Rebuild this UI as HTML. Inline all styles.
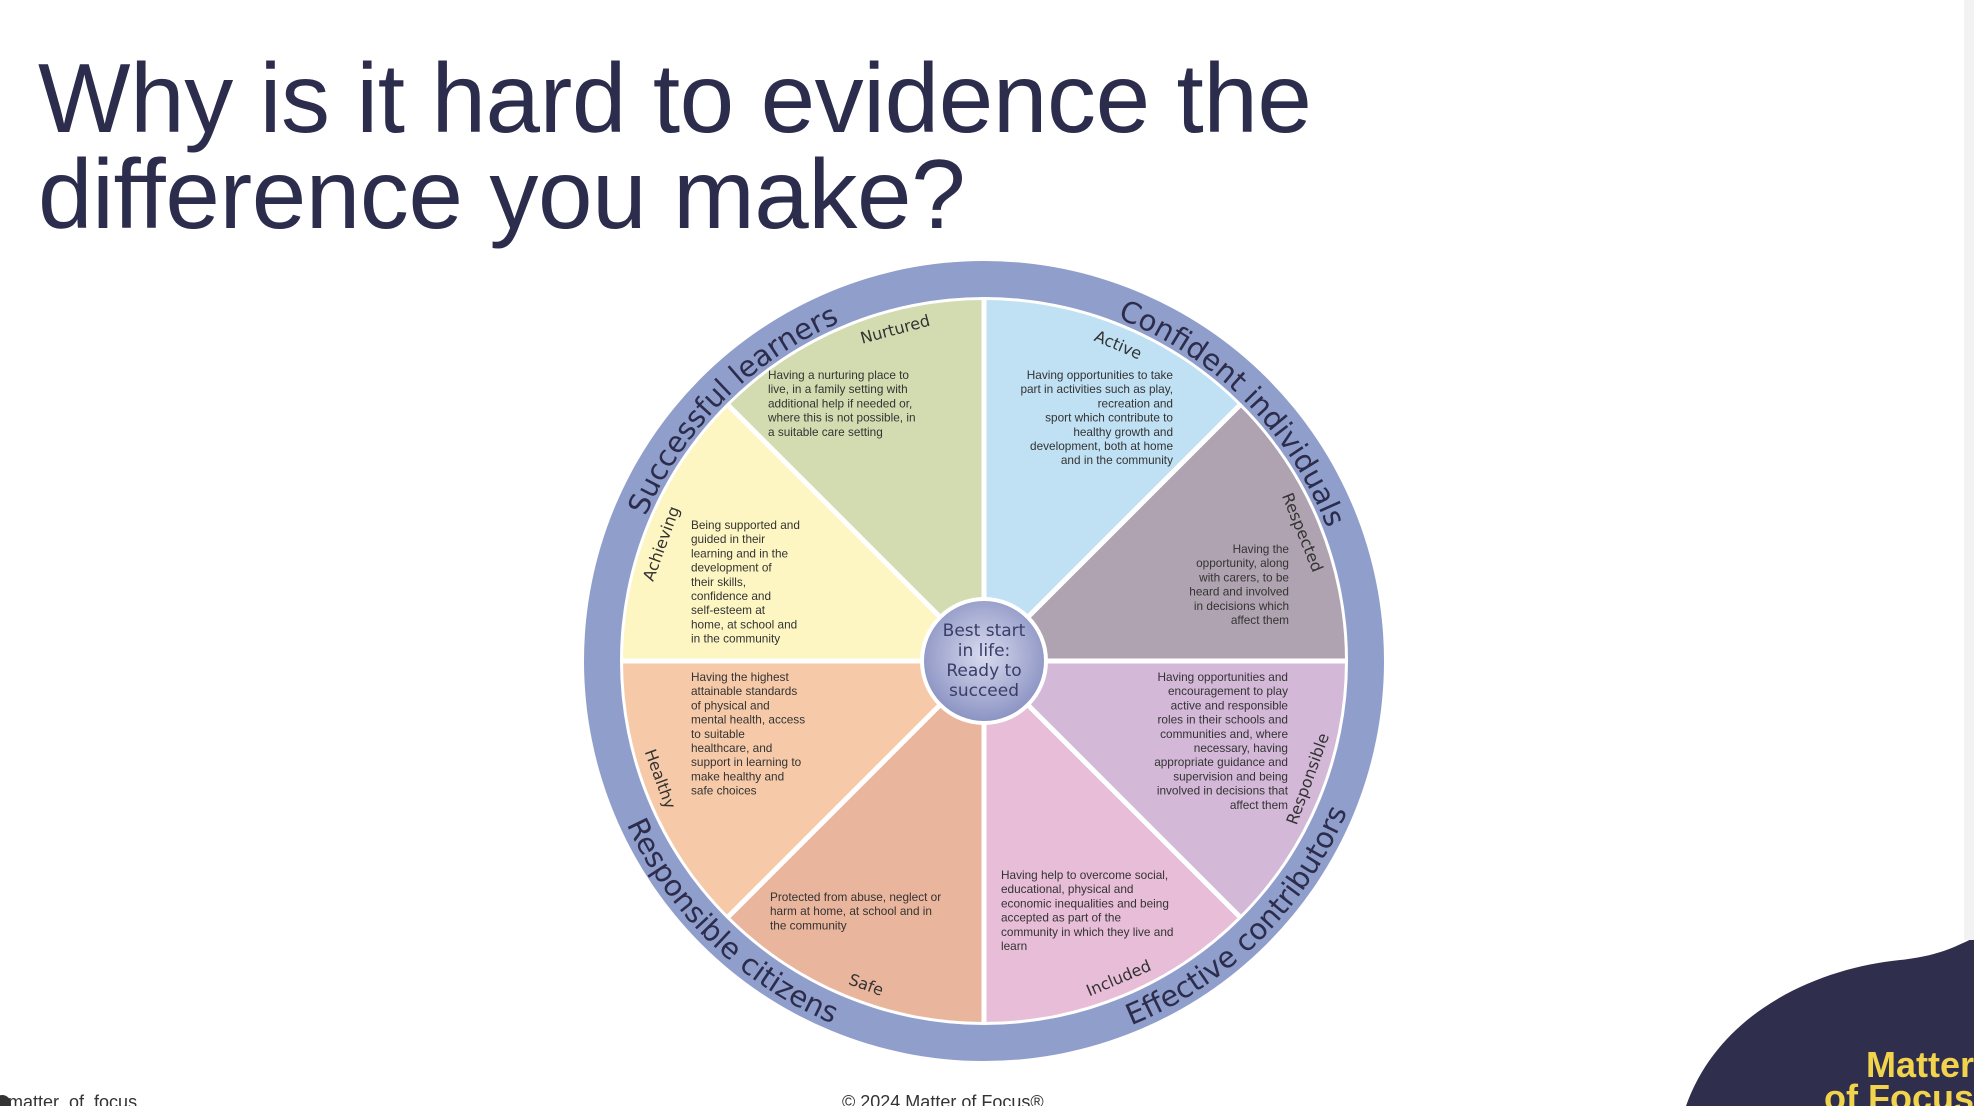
<!DOCTYPE html>
<html><head><meta charset="utf-8"><style>
html,body{margin:0;padding:0;background:#fff;}
body{width:1974px;height:1106px;overflow:hidden;position:relative;font-family:"Liberation Sans",sans-serif;}
.t{position:absolute;left:38px;color:#2c2c4c;font-size:98px;line-height:96px;letter-spacing:-0.4px;}
</style></head><body>
<div class="t" style="top:50px">Why is it hard to evidence the</div>
<div class="t" style="top:146px">difference you make?</div>
<svg width="1974" height="1106" style="position:absolute;left:0;top:0" xmlns="http://www.w3.org/2000/svg">
<defs>
<radialGradient id="cg" cx="50%" cy="45%" r="55%"><stop offset="0" stop-color="#d9dbef"/><stop offset="1" stop-color="#8c94c3"/></radialGradient>
<path id="topArc" d="M616,661 A368,368 0 0 1 1352,661 A368,368 0 0 1 616,661"/>
<path id="botArc" d="M591,661 A393,393 0 0 0 1377,661"/>
</defs>
<circle cx="984" cy="661" r="400" fill="#909ecb"/>
<circle cx="984" cy="661" r="364" fill="#fff"/>
<g transform="translate(984,661)">
<path d="M0,0 L0,-361 A361,361 0 0 0 -255.3,-255.3 Z" fill="#d3dbb1"/>
<path d="M0,0 L0,-361 A361,361 0 0 1 255.3,-255.3 Z" fill="#c0e0f3"/>
<path d="M0,0 L255.3,-255.3 A361,361 0 0 1 361,0 Z" fill="#b0a3b1"/>
<path d="M0,0 L361,0 A361,361 0 0 1 255.3,255.3 Z" fill="#d3b8d8"/>
<path d="M0,0 L255.3,255.3 A361,361 0 0 1 0,361 Z" fill="#e7bdd8"/>
<path d="M0,0 L0,361 A361,361 0 0 1 -255.3,255.3 Z" fill="#eab59d"/>
<path d="M0,0 L-255.3,255.3 A361,361 0 0 1 -361,0 Z" fill="#f6caa9"/>
<path d="M0,0 L-361,0 A361,361 0 0 1 -255.3,-255.3 Z" fill="#fdf6c3"/>
<g stroke="#fff" stroke-width="5">
<line x1="0" y1="-362" x2="0" y2="362"/><line x1="-362" y1="0" x2="362" y2="0"/>
<line x1="-256" y1="-256" x2="256" y2="256"/><line x1="-256" y1="256" x2="256" y2="-256"/>
</g>
<circle r="64" fill="#fff"/>
<circle r="60" fill="url(#cg)"/>
<g font-family="DejaVu Sans,sans-serif" font-size="17" fill="#3a3d68" text-anchor="middle">
<text y="-25">Best start</text><text y="-5">in life:</text><text y="15">Ready to</text><text y="35">succeed</text>
</g>
<g font-family="DejaVu Sans,sans-serif" font-size="16" fill="#333" text-anchor="middle">
<text transform="rotate(-15) translate(0,-338)">Nurtured</text>
<text transform="rotate(23) translate(0,-338)">Active</text>
<text transform="rotate(68) translate(0,-338)">Respected</text>
<text transform="rotate(-70) translate(0,350)">Responsible</text>
<text transform="rotate(-23) translate(0,350)">Included</text>
<text transform="rotate(20) translate(0,350)">Safe</text>
<text transform="rotate(70) translate(0,350)">Healthy</text>
<text transform="rotate(-70) translate(0,-338)">Achieving</text>
</g>
</g>
<g font-family="DejaVu Sans,sans-serif" font-size="29" fill="#2c2c4c">
<text><textPath href="#topArc" startOffset="289" text-anchor="middle">Successful learners</textPath></text>
<text><textPath href="#topArc" startOffset="867" text-anchor="middle">Confident individuals</textPath></text>
<text><textPath href="#botArc" startOffset="315" text-anchor="middle">Responsible citizens</textPath></text>
<text><textPath href="#botArc" startOffset="924" text-anchor="middle">Effective contributors</textPath></text>
</g>
<g font-family="Liberation Sans,sans-serif" font-size="11.8" fill="#333">
<text x="768" y="379"><tspan x="768">Having a nurturing place to</tspan><tspan x="768" dy="14.2">live, in a family setting with</tspan><tspan x="768" dy="14.2">additional help if needed or,</tspan><tspan x="768" dy="14.2">where this is not possible, in</tspan><tspan x="768" dy="14.2">a suitable care setting</tspan></text>
<text x="1173" y="379" text-anchor="end"><tspan x="1173">Having opportunities to take</tspan><tspan x="1173" dy="14.2">part in activities such as play,</tspan><tspan x="1173" dy="14.2">recreation and</tspan><tspan x="1173" dy="14.2">sport which contribute to</tspan><tspan x="1173" dy="14.2">healthy growth and</tspan><tspan x="1173" dy="14.2">development, both at home</tspan><tspan x="1173" dy="14.2">and in the community</tspan></text>
<text y="553" text-anchor="end"><tspan x="1289">Having the</tspan><tspan x="1289" dy="14.2">opportunity, along</tspan><tspan x="1289" dy="14.2">with carers, to be</tspan><tspan x="1289" dy="14.2">heard and involved</tspan><tspan x="1289" dy="14.2">in decisions which</tspan><tspan x="1289" dy="14.2">affect them</tspan></text>
<text y="681" text-anchor="end"><tspan x="1288">Having opportunities and</tspan><tspan x="1288" dy="14.2">encouragement to play</tspan><tspan x="1288" dy="14.2">active and responsible</tspan><tspan x="1288" dy="14.2">roles in their schools and</tspan><tspan x="1288" dy="14.2">communities and, where</tspan><tspan x="1288" dy="14.2">necessary, having</tspan><tspan x="1288" dy="14.2">appropriate guidance and</tspan><tspan x="1288" dy="14.2">supervision and being</tspan><tspan x="1288" dy="14.2">involved in decisions that</tspan><tspan x="1288" dy="14.2">affect them</tspan></text>
<text y="879"><tspan x="1001">Having help to overcome social,</tspan><tspan x="1001" dy="14.2">educational, physical and</tspan><tspan x="1001" dy="14.2">economic inequalities and being</tspan><tspan x="1001" dy="14.2">accepted as part of the</tspan><tspan x="1001" dy="14.2">community in which they live and</tspan><tspan x="1001" dy="14.2">learn</tspan></text>
<text y="901"><tspan x="770">Protected from abuse, neglect or</tspan><tspan x="770" dy="14.2">harm at home, at school and in</tspan><tspan x="770" dy="14.2">the community</tspan></text>
<text y="681"><tspan x="691">Having the highest</tspan><tspan x="691" dy="14.2">attainable standards</tspan><tspan x="691" dy="14.2">of physical and</tspan><tspan x="691" dy="14.2">mental health, access</tspan><tspan x="691" dy="14.2">to suitable</tspan><tspan x="691" dy="14.2">healthcare, and</tspan><tspan x="691" dy="14.2">support in learning to</tspan><tspan x="691" dy="14.2">make healthy and</tspan><tspan x="691" dy="14.2">safe choices</tspan></text>
<text y="529"><tspan x="691">Being supported and</tspan><tspan x="691" dy="14.2">guided in their</tspan><tspan x="691" dy="14.2">learning and in the</tspan><tspan x="691" dy="14.2">development of</tspan><tspan x="691" dy="14.2">their skills,</tspan><tspan x="691" dy="14.2">confidence and</tspan><tspan x="691" dy="14.2">self-esteem at</tspan><tspan x="691" dy="14.2">home, at school and</tspan><tspan x="691" dy="14.2">in the community</tspan></text>
</g>
<path d="M1686,1106 C1720,1010 1820,968 1900,960 C1940,956 1958,945 1974,938 L1974,1106 Z" fill="#302e4d"/>
<g font-family="Liberation Sans,sans-serif" font-weight="bold" font-size="36" fill="#f2d34c" text-anchor="end">
<text x="1974" y="1077">Matter</text><text x="1974" y="1110">of Focus</text>
</g>
<circle cx="2" cy="1104" r="9" fill="#333"/>
<text x="8" y="1108" font-family="Liberation Sans,sans-serif" font-size="18" fill="#333">matter_of_focus</text>
<text x="842" y="1108" font-family="Liberation Sans,sans-serif" font-size="18" fill="#333">© 2024 Matter of Focus®</text>
<rect x="1964" y="0" width="10" height="940" fill="#f2f2f2"/>
</svg>
</body></html>
